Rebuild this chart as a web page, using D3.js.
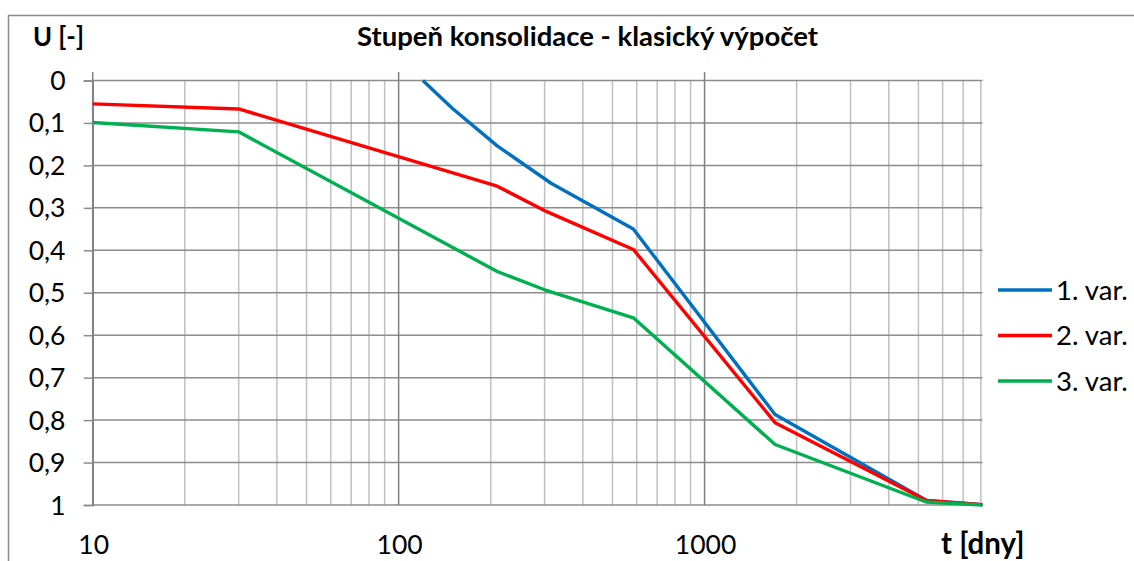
<!DOCTYPE html>
<html>
<head>
<meta charset="utf-8">
<script src="https://cdn.jsdelivr.net/npm/d3@7"></script>
<style>
  html, body { margin: 0; padding: 0; background: #fff; }
  svg { display: block; }
  text { font-family: Lato, "Open Sans", sans-serif; fill: #000; }
</style>
</head>
<body>
<svg id="chart" width="1134" height="561"></svg>
<script>
// Degree of consolidation U over time t (days), three design variants
const seriesNames = ["1. var.", "2. var.", "3. var."];
const seriesColors = ["#0070C0", "#FF0000", "#00B050"];

const var1T = [120, 150, 210, 315, 585, 1700, 5300, 8100];
const var1U = [0, 0.066, 0.154, 0.242, 0.35, 0.787, 0.989, 0.999];

const var2T = [10, 30, 210, 305, 585, 1700, 5300, 8100];
const var2U = [0.055, 0.067, 0.249, 0.309, 0.398, 0.806, 0.989, 0.999];

const var3T = [10, 30, 210, 300, 585, 1700, 5300, 8100];
const var3U = [0.099, 0.121, 0.45, 0.493, 0.559, 0.8575, 0.993, 1.0];

const yTicks = [0, 0.1, 0.2, 0.3, 0.4, 0.5, 0.6, 0.7, 0.8, 0.9, 1];
const xLabelTicks = [10, 100, 1000];

const titleText = "Stupeň konsolidace - klasický výpočet";
const yTitle = "U [-]";
const xTitle = "t [dny]";

const svg = d3.select("#chart");
const plot = { left: 92.7, right: 982.5, top: 80.5, bottom: 505 };

const x = d3.scaleLog().domain([10, 8100]).range([plot.left, plot.right]);
const y = d3.scaleLinear().domain([0, 1]).range([plot.top, plot.bottom]);

// scale a text element's font size so that it spans the given width
function fitWidth(sel, width) {
  const node = sel.node();
  const fs = parseFloat(sel.style("font-size"));
  const w = node.getComputedTextLength();
  if (w > 0) sel.style("font-size", (fs * width / w).toFixed(2) + "px");
  return sel;
}

// chart area border
svg.append("rect")
  .attr("x", 8.5).attr("y", 15.5).attr("width", 1300).attr("height", 700)
  .attr("fill", "none").attr("stroke", "#8c8c8c").attr("stroke-width", 1.5);

const grid = svg.append("g");

// minor vertical gridlines
const allX = x.ticks().filter(t => t > 10);
grid.selectAll("line.minor").data(allX.filter(t => !xLabelTicks.includes(t)))
  .join("line").attr("class", "minor")
  .attr("x1", d => x(d)).attr("x2", d => x(d))
  .attr("y1", plot.top).attr("y2", plot.bottom)
  .attr("stroke", "#c0c0c0").attr("stroke-width", 1.5);

// horizontal gridlines
grid.selectAll("line.h").data(yTicks)
  .join("line").attr("class", "h")
  .attr("x1", plot.left).attr("x2", plot.right)
  .attr("y1", d => y(d)).attr("y2", d => y(d))
  .attr("stroke", "#8c8c8c").attr("stroke-width", 1.5);

// major vertical gridlines with outward ticks above the axis
grid.selectAll("line.major").data(xLabelTicks)
  .join("line").attr("class", "major")
  .attr("x1", d => x(d)).attr("x2", d => x(d))
  .attr("y1", plot.top - 8.5).attr("y2", plot.bottom)
  .attr("stroke", "#808080").attr("stroke-width", 1.5);

// y axis with tick marks
const yAxis = d3.axisLeft(y).tickValues(yTicks).tickSize(9).tickFormat("");
const yg = svg.append("g").attr("transform", `translate(${plot.left},0)`).call(yAxis);
yg.select(".domain").attr("stroke", "#808080").attr("stroke-width", 1.5);
yg.selectAll(".tick line").attr("stroke", "#8c8c8c").attr("stroke-width", 1.5);

// y tick labels
const fmt = d => d3.format("")(d).replace(".", ",");
svg.append("g").selectAll("text").data(yTicks).join("text")
  .attr("x", 65.5).attr("y", d => y(d))
  .attr("dy", "0.36em").attr("text-anchor", "end")
  .style("font-size", "26.5px")
  .text(fmt);

// x tick labels (below the plot)
svg.append("g").selectAll("text").data(xLabelTicks).join("text")
  .attr("x", d => x(d) + 1).attr("y", 553.5)
  .attr("text-anchor", "middle")
  .style("font-size", "26.5px")
  .text(d => d);

// series lines
const seriesT = [var1T, var2T, var3T];
const seriesU = [var1U, var2U, var3U];
const line = d3.line().x(d => x(d[0])).y(d => y(d[1]));
seriesT.forEach((ts, i) => {
  svg.append("path")
    .datum(ts.map((t, k) => [t, seriesU[i][k]]))
    .attr("d", line)
    .attr("fill", "none")
    .attr("stroke", seriesColors[i])
    .attr("stroke-width", 3.4)
    .attr("stroke-linejoin", "round");
});

// titles
fitWidth(svg.append("text").attr("x", 587.5).attr("y", 45.5)
  .attr("text-anchor", "middle")
  .style("font-size", "26px").style("font-weight", "bold")
  .text(titleText), 461);
fitWidth(svg.append("text").attr("x", 33).attr("y", 45.5)
  .style("font-size", "26px").style("font-weight", "bold")
  .text(yTitle), 51);
svg.append("text").attr("x", 941).attr("y", 553.5)
  .style("font-size", "29.5px").style("font-weight", "bold")
  .text(xTitle);

// legend
const legY = [290, 335.5, 381];
const leg = svg.append("g");
seriesNames.forEach((name, i) => {
  leg.append("line")
    .attr("x1", 998).attr("x2", 1052)
    .attr("y1", legY[i]).attr("y2", legY[i])
    .attr("stroke", seriesColors[i]).attr("stroke-width", 3.4);
  leg.append("text")
    .attr("x", 1056).attr("y", legY[i]).attr("dy", "0.36em")
    .style("font-size", "27.5px")
    .text(name);
});
</script>
</body>
</html>
